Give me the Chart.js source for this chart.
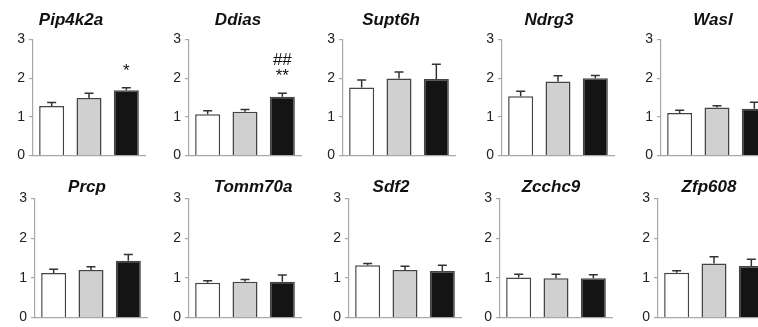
<!DOCTYPE html>
<html>
<head>
<meta charset="utf-8">
<script src="https://cdn.jsdelivr.net/npm/chart.js@4.4.1/dist/chart.umd.min.js"></script>
<style>
  body { margin: 0; background: #fff; width: 758px; height: 327px; overflow: hidden; position: relative; }
  .panel { position: absolute; }
  .title { position: absolute; font-family: "Liberation Sans", Arial, sans-serif; font-weight: bold; font-style: italic;
           font-size: 17px; line-height: 17px; color: #111; transform: translateX(-50%); white-space: nowrap; }
</style>
</head>
<body>
<script>
// ====== Datos ======
const genes = ['Pip4k2a', 'Ddias', 'Supt6h', 'Ndrg3', 'Wasl', 'Prcp', 'Tomm70a', 'Sdf2', 'Zcchc9', 'Zfp608'];
const groups = ['1', '2', '3'];
const yTicks = [0, 1, 2, 3];

const means = [
  [1.28, 1.49, 1.69],
  [1.07, 1.13, 1.52],
  [1.76, 1.99, 1.98],
  [1.53, 1.91, 2.00],
  [1.10, 1.24, 1.21],
  [1.12, 1.20, 1.43],
  [0.88, 0.90, 0.90],
  [1.32, 1.20, 1.17],
  [1.01, 0.99, 0.99],
  [1.13, 1.36, 1.30]
];
const errors = [
  [0.09, 0.12, 0.06],
  [0.09, 0.06, 0.09],
  [0.19, 0.17, 0.38],
  [0.13, 0.15, 0.07],
  [0.07, 0.05, 0.17],
  [0.10, 0.08, 0.16],
  [0.05, 0.06, 0.17],
  [0.04, 0.09, 0.15],
  [0.08, 0.10, 0.09],
  [0.05, 0.17, 0.17]
];
// marcas de significancia (de abajo hacia arriba)
const marks = [
  [[], [], ['*']],
  [[], [], ['**', '##']],
  [[], [], []], [[], [], []], [[], [], []],
  [[], [], []], [[], [], []], [[], [], []], [[], [], []], [[], [], []]
];

// ====== Layout ======
const axisX = [33, 189, 343, 502, 661, 35, 189, 349, 500, 658];
const titleX = [71, 238, 391, 549, 713, 87, 253, 391, 551, 709];
const rowTop = [39, 198];    // pixel of value 3
const rowZero = [156, 318];  // pixel of value 0
const titleTop = [11, 178];
const barColors = ['#ffffff', '#d0d0d0', '#141414'];
const axisColor = '#a8a8a8';
const FONT = '"Liberation Sans", Arial, sans-serif';

const errorBars = {
  id: 'errorBars',
  afterDatasetsDraw(chart) {
    const { ctx, scales: { y } } = chart;
    const idx = chart.options.plugins.errorBars.index;
    const meta = chart.getDatasetMeta(0);
    ctx.save();
    ctx.strokeStyle = '#333';
    ctx.lineWidth = 1.5;
    meta.data.forEach((bar, i) => {
      const top = y.getPixelForValue(means[idx][i] + errors[idx][i]);
      ctx.beginPath();
      ctx.moveTo(bar.x, bar.y);
      ctx.lineTo(bar.x, top);
      ctx.moveTo(bar.x - 4.5, top);
      ctx.lineTo(bar.x + 4.5, top);
      ctx.stroke();
      ctx.fillStyle = '#111';
      ctx.font = '17px ' + FONT;
      ctx.textAlign = 'center';
      ctx.textBaseline = 'alphabetic';
      marks[idx][i].forEach((m, k) => {
        ctx.fillText(m, bar.x, top - 12 - 16 * k);
      });
    });
    ctx.restore();
  }
};

const PAD_TOP = 12, PAD_BOT = 12, AXIS_W = 33, PLOT_W = 112;

genes.forEach((gene, idx) => {
  const row = idx < 5 ? 0 : 1;
  const h = rowZero[row] - rowTop[row] + PAD_TOP + PAD_BOT;

  const box = document.createElement('div');
  box.className = 'panel';
  box.style.left = (axisX[idx] - AXIS_W) + 'px';
  box.style.top = (rowTop[row] - PAD_TOP) + 'px';
  box.style.width = (AXIS_W + PLOT_W + 3) + 'px';
  box.style.height = h + 'px';
  const canvas = document.createElement('canvas');
  box.appendChild(canvas);
  document.body.appendChild(box);

  const title = document.createElement('div');
  title.className = 'title';
  title.textContent = gene;
  title.style.left = titleX[idx] + 'px';
  title.style.top = titleTop[row] + 'px';
  document.body.appendChild(title);

  new Chart(canvas, {
    type: 'bar',
    data: {
      labels: groups,
      datasets: [{
        data: means[idx],
        backgroundColor: barColors,
        borderColor: '#444',
        borderWidth: 1.5,
        borderSkipped: 'bottom',
        categoryPercentage: 1,
        barPercentage: 0.67
      }]
    },
    options: {
      responsive: true,
      maintainAspectRatio: false,
      animation: false,
      events: [],
      layout: { padding: { top: PAD_TOP, bottom: PAD_BOT, left: 0, right: 3 } },
      plugins: {
        legend: { display: false },
        tooltip: { enabled: false },
        errorBars: { index: idx }
      },
      scales: {
        x: {
          grid: { display: false },
          ticks: { display: false },
          border: { color: axisColor, width: 1.2 },
          afterFit: s => { s.height = 0; }
        },
        y: {
          min: yTicks[0],
          max: yTicks[yTicks.length - 1],
          afterBuildTicks: s => { s.ticks = yTicks.map(v => ({ value: v })); },
          grid: { drawOnChartArea: false, tickLength: 4, color: axisColor, lineWidth: 1.2 },
          border: { color: axisColor, width: 1.2 },
          ticks: { color: '#222', padding: 4, font: { family: FONT, size: 14 } },
          afterFit: s => { s.width = AXIS_W; }
        }
      }
    },
    plugins: [errorBars]
  });
});
</script>
</body>
</html>
